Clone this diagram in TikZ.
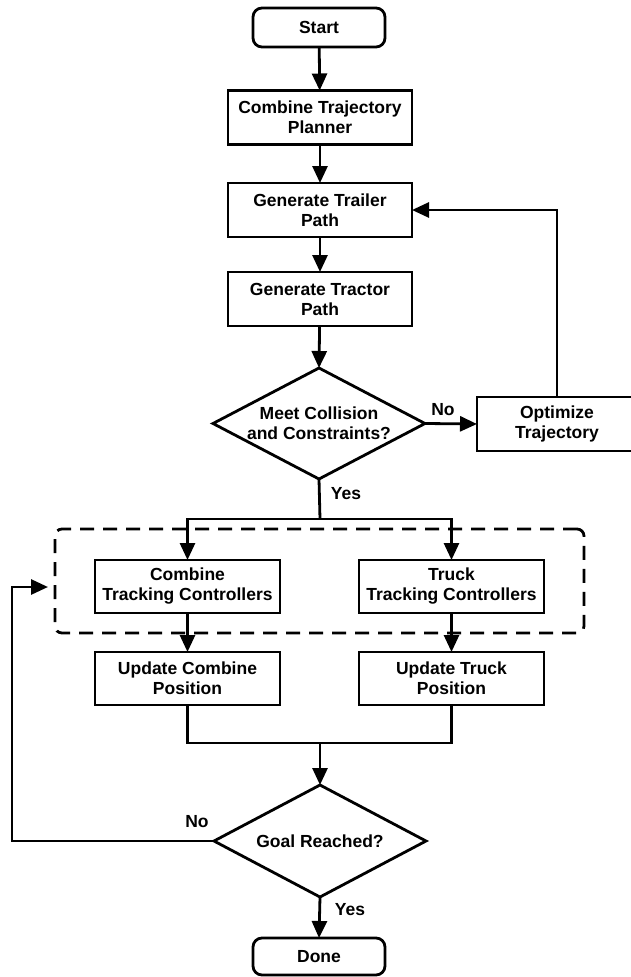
\documentclass[tikz,border=0pt]{standalone}
\usepackage{fontspec}
\setmainfont{Liberation Sans}
\usetikzlibrary{shapes.geometric,arrows.meta}
\begin{document}
\begin{tikzpicture}[x=1pt,y=-1pt,
  every node/.style={font=\fontsize{17.5}{20}\selectfont\bfseries, align=center},
  box/.style={draw, line width=2.8pt, minimum width=184pt, minimum height=54pt, inner sep=0pt, outer sep=0pt},
  lowbox/.style={box, minimum width=185pt, minimum height=53pt},
  term/.style={box, rounded corners=9pt, minimum width=132pt, minimum height=39pt},
  dia/.style={draw, diamond, line width=2.8pt, inner sep=0pt, outer sep=0pt, minimum width=212pt, minimum height=111pt},
  ln/.style={line width=2.8pt},
  ar/.style={line width=2.8pt, -{Triangle[length=17pt,width=15pt]}},
  grpbox/.style={draw, line width=2.8pt, dash pattern=on 14pt off 9pt, rounded corners=7pt, minimum width=529pt, minimum height=104pt, inner sep=0pt}
]
\useasboundingbox (0,0) rectangle (631,977);

\node[term] (start) at (319,27.5) {Start};
\node[box] (plan) at (320,117.5) {Combine Trajectory\\Planner};
\node[box] (trailer) at (320,210) {Generate Trailer\\Path};
\node[box] (tractor) at (320,299) {Generate Tractor\\Path};
\node[dia, label={[align=center, font=\fontsize{17.5}{20}\selectfont\bfseries]center:Meet Collision\\and Constraints?}] (d1) at (319,423.5) {};
\node[box, minimum width=160pt] (opt) at (557,424) {Optimize\\Trajectory};

\node[grpbox] (grp) at (319.5,581) {};
\node[lowbox] (ctc) at (187.5,586.5) {Combine\\Tracking Controllers};
\node[lowbox] (ttc) at (451.5,586.5) {Truck\\Tracking Controllers};
\node[lowbox] (uc) at (187.5,678.5) {Update Combine\\Position};
\node[lowbox] (ut) at (451.5,678.5) {Update Truck\\Position};

\node[dia, minimum height=112pt, label={[font=\fontsize{17.5}{20}\selectfont\bfseries]center:Goal Reached?}] (d2) at (320,841) {};
\node[term, minimum height=37pt] (done) at (319,956.5) {Done};

\node (no1) at (443,410) {No};
\node (yes1) at (346,494) {Yes};
\node (no2) at (197,822) {No};
\node (yes2) at (350,910) {Yes};

\coordinate (ysplit) at (320,519);
\coordinate (merge) at (320,743);
\coordinate (fb) at (48,587);

\draw[ar] (start) -- (plan);
\draw[ar] (plan) -- (trailer);
\draw[ar] (trailer) -- (tractor);
\draw[ar] (tractor) -- (d1.north);
\draw[ar] (d1.east) -- (opt.west);
\draw[ar] (opt.north) |- (trailer.east);
\draw[ln] (d1.south) -- (ysplit);
\draw[ar] (ysplit) -| (ctc.north);
\draw[ar] (ysplit) -| (ttc.north);
\draw[ar] (ctc) -- (uc);
\draw[ar] (ttc) -- (ut);
\draw[ln] (uc.south) |- (merge);
\draw[ln] (ut.south) |- (merge);
\draw[ar] (merge) -- (d2.north);
\draw[ar] (d2.west) -- ++(-202,0) |- (fb);
\draw[ar] (d2.south) -- (done.north);
\end{tikzpicture}
\end{document}
